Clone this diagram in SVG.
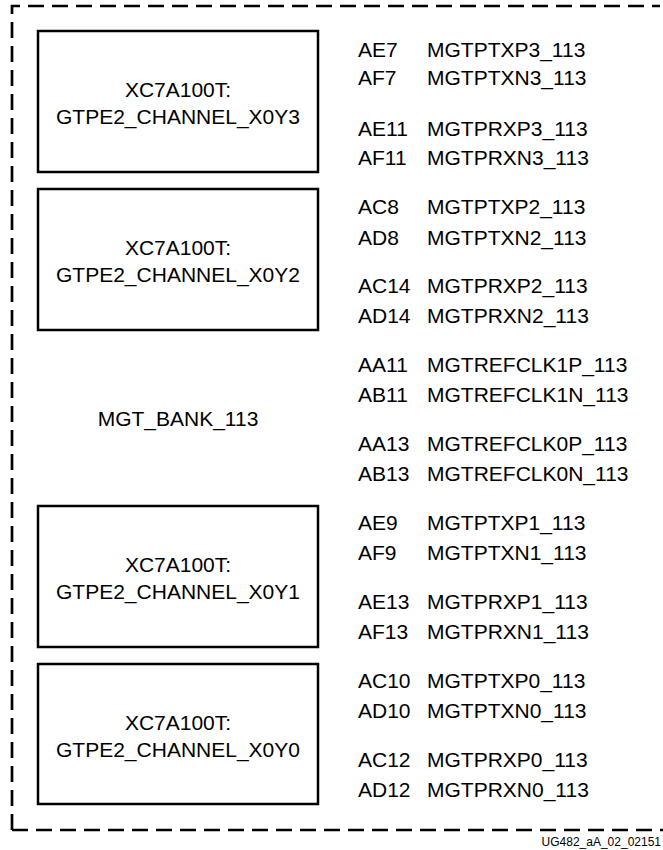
<svg xmlns="http://www.w3.org/2000/svg" width="663" height="850" viewBox="0 0 663 850">
<style>
text{font-family:"Liberation Sans",Arial,sans-serif;fill:#000}
.t{font-size:21px}
.c{font-size:21px;text-anchor:middle}
.box{fill:#fff;stroke:#000;stroke-width:2.5}
.border{fill:none;stroke:#000;stroke-width:2.7;stroke-dasharray:16 8}
.cap{font-size:12px;text-anchor:end}
</style>
<rect width="663" height="850" fill="#fff"/>
<g id="bank-border"><path class="border" d="M12 830 V6 H660"/><path class="border" d="M12 830 H663"/></g>
<g id="connectors"></g>
<g id="ch3"><rect class="box" x="38" y="31" width="280" height="141"/><text class="c" x="178" y="97">XC7A100T:</text><text class="c" x="178" y="124">GTPE2_CHANNEL_X0Y3</text></g>
<g id="ch2"><rect class="box" x="38" y="189" width="280" height="141"/><text class="c" x="178" y="255">XC7A100T:</text><text class="c" x="178" y="282">GTPE2_CHANNEL_X0Y2</text></g>
<g id="bank"><text class="c" x="178" y="426">MGT_BANK_113</text></g>
<g id="ch1"><rect class="box" x="38" y="506" width="280" height="141"/><text class="c" x="178" y="572">XC7A100T:</text><text class="c" x="178" y="599">GTPE2_CHANNEL_X0Y1</text></g>
<g id="ch0"><rect class="box" x="38" y="664" width="280" height="140"/><text class="c" x="178" y="730">XC7A100T:</text><text class="c" x="178" y="757">GTPE2_CHANNEL_X0Y0</text></g>
<g id="pins">
<text class="t" x="358" y="57">AE7</text><text class="t" x="427" y="57">MGTPTXP3_113</text>
<text class="t" x="358" y="85">AF7</text><text class="t" x="427" y="85">MGTPTXN3_113</text>
<text class="t" x="358" y="136">AE11</text><text class="t" x="427" y="136">MGTPRXP3_113</text>
<text class="t" x="358" y="165">AF11</text><text class="t" x="427" y="165">MGTPRXN3_113</text>
<text class="t" x="358" y="214">AC8</text><text class="t" x="427" y="214">MGTPTXP2_113</text>
<text class="t" x="358" y="245">AD8</text><text class="t" x="427" y="245">MGTPTXN2_113</text>
<text class="t" x="358" y="293">AC14</text><text class="t" x="427" y="293">MGTPRXP2_113</text>
<text class="t" x="358" y="323">AD14</text><text class="t" x="427" y="323">MGTPRXN2_113</text>
<text class="t" x="358" y="372">AA11</text><text class="t" x="427" y="372">MGTREFCLK1P_113</text>
<text class="t" x="358" y="402">AB11</text><text class="t" x="427" y="402">MGTREFCLK1N_113</text>
<text class="t" x="358" y="451">AA13</text><text class="t" x="427" y="451">MGTREFCLK0P_113</text>
<text class="t" x="358" y="481">AB13</text><text class="t" x="427" y="481">MGTREFCLK0N_113</text>
<text class="t" x="358" y="530">AE9</text><text class="t" x="427" y="530">MGTPTXP1_113</text>
<text class="t" x="358" y="560">AF9</text><text class="t" x="427" y="560">MGTPTXN1_113</text>
<text class="t" x="358" y="609">AE13</text><text class="t" x="427" y="609">MGTPRXP1_113</text>
<text class="t" x="358" y="639">AF13</text><text class="t" x="427" y="639">MGTPRXN1_113</text>
<text class="t" x="358" y="688">AC10</text><text class="t" x="427" y="688">MGTPTXP0_113</text>
<text class="t" x="358" y="718">AD10</text><text class="t" x="427" y="718">MGTPTXN0_113</text>
<text class="t" x="358" y="767">AC12</text><text class="t" x="427" y="767">MGTPRXP0_113</text>
<text class="t" x="358" y="797">AD12</text><text class="t" x="427" y="797">MGTPRXN0_113</text>
</g>
<g id="caption"><text class="cap" x="661" y="846">UG482_aA_02_02151</text></g>
</svg>
